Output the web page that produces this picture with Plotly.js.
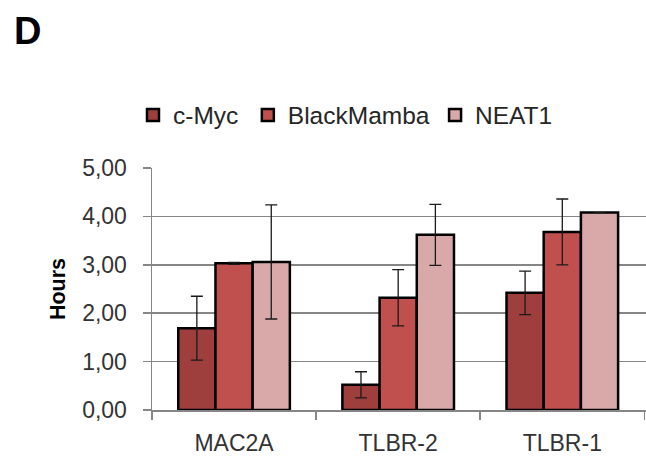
<!DOCTYPE html>
<html>
<head>
<meta charset="utf-8">
<script src="https://cdn.plot.ly/plotly-3.0.1.min.js"></script>
<style>html,body{margin:0;padding:0;background:#fff;}#chart{width:646px;height:458px;}</style>
</head>
<body>
<div id="chart"></div>
<script>
var categories = ["MAC2A", "TLBR-2", "TLBR-1"];
var seriesNames = ["c-Myc", "BlackMamba", "NEAT1"];
var cMyc = [1.69, 0.52, 2.42];
var cMycErr = [0.66, 0.27, 0.45];
var blackMamba = [3.03, 2.32, 3.68];
var blackMambaErr = [0.02, 0.58, 0.68];
var neat1 = [3.06, 3.62, 4.08];
var neat1Err = [1.18, 0.63, 0];
var yTicks = [0, 1, 2, 3, 4, 5];

var colors = ["#9E3F3E", "#C0504D", "#D9A8A8"];
var values = [cMyc, blackMamba, neat1];
var errs = [cMycErr, blackMambaErr, neat1Err];
var legendIds = ["legend", "legend2", "legend3"];
var legendX = [-0.0385, 0.194, 0.573];

var traces = seriesNames.map(function(name, i) {
  return {
    type: "bar",
    name: name,
    x: categories,
    y: values[i],
    legend: legendIds[i],
    marker: {color: colors[i], line: {color: "#000000", width: 2.5}},
    error_y: {type: "data", array: errs[i], visible: true, color: "#1a1a1a", thickness: 1.3, width: 6}
  };
});

var layout = {
  width: 646, height: 458,
  margin: {l: 152, r: 0, t: 168, b: 48},
  paper_bgcolor: "#ffffff", plot_bgcolor: "#ffffff",
  separators: ", ",
  font: {family: "Liberation Sans, Arial, sans-serif", color: "#333333", size: 22},
  barmode: "group",
  bargap: 0.32,
  bargroupgap: 0,
  showlegend: true,
  xaxis: {
    type: "category",
    range: [-0.5, 2.51],
    showline: true, linecolor: "#868686", linewidth: 1.5,
    ticks: "outside", tickson: "boundaries", ticklen: 8, tickcolor: "#868686", tickwidth: 1.5,
    tickfont: {size: 23, color: "#333333"},
    ticklabelstandoff: 12,
    showgrid: false, zeroline: false
  },
  yaxis: {
    range: [0, 5],
    tickvals: yTicks,
    tickformat: ".2f",
    showline: true, linecolor: "#868686", linewidth: 1.5,
    ticks: "outside", ticklen: 8, tickcolor: "#868686", tickwidth: 1.5,
    tickfont: {size: 23, color: "#333333"},
    ticklabelstandoff: 11,
    showgrid: true, gridcolor: "#868686", gridwidth: 1.5,
    zeroline: false,
    title: {text: "<b>Hours</b>", font: {size: 21.5, color: "#000000"}, standoff: 10}
  },
  annotations: [{
    text: "<b>D</b>", xref: "paper", yref: "paper",
    x: -0.283, y: 1.565, xanchor: "left", yanchor: "middle",
    showarrow: false, font: {size: 38, color: "#000000"}
  }]
};

legendIds.forEach(function(id, i) {
  layout[id] = {orientation: "h", x: legendX[i], xanchor: "left", y: 1.312, yanchor: "top",
                font: {size: 24.5, color: "#262626"}, itemwidth: 30,
                bgcolor: "rgba(0,0,0,0)"};
});

Plotly.newPlot("chart", traces, layout, {displayModeBar: false, staticPlot: true});
</script>
</body>
</html>
